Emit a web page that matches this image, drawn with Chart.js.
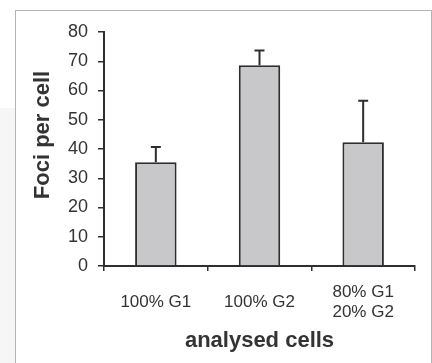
<!DOCTYPE html>
<html>
<head>
<meta charset="utf-8">
<script src="https://cdn.jsdelivr.net/npm/chart.js@4.4.1/dist/chart.umd.min.js"></script>
<style>
  html, body { margin: 0; padding: 0; background: #fff; }
  #page { position: relative; width: 432px; height: 363px; overflow: hidden; }
  #side { position: absolute; left: 0; top: 108px; width: 16px; height: 255px; background: #f6f6f6; }
  #panel { position: absolute; left: 15px; top: 10px; width: 415px; height: 360px; border: 1.5px solid #b4b4b4; background: #fff; }
  #chart { position: absolute; left: 0; top: 0; }
</style>
</head>
<body>
<div id="page">
  <div id="side"></div>
  <div id="panel"></div>
  <canvas id="chart" width="432" height="363"></canvas>
</div>
<script>
// values
let categories = [['100% G1'], ['100% G2'], ['80% G1', '20% G2']];
let fociPerCell = [35.5, 68.6, 42.3];
let fociError = [5.2, 5.1, 14.2];
let yTicks = [0, 10, 20, 30, 40, 50, 60, 70, 80];

let textColour = '#333333';
let lineColour = '#2e2e2e';

/**
 * Draws the upper error whiskers on top of each bar.
 */
let errorBarPlugin = {
  id: 'errorBars',
  afterDatasetsDraw(chart) {
    let ctx = chart.ctx;
    let yScale = chart.scales.y;
    let meta = chart.getDatasetMeta(0);
    ctx.save();
    ctx.strokeStyle = lineColour;
    ctx.lineWidth = 2;
    meta.data.forEach((bar, i) => {
      let top = yScale.getPixelForValue(fociPerCell[i] + fociError[i]);
      ctx.beginPath();
      ctx.moveTo(bar.x, bar.y);
      ctx.lineTo(bar.x, top);
      ctx.moveTo(bar.x - 5, top);
      ctx.lineTo(bar.x + 5, top);
      ctx.stroke();
    });
    ctx.restore();
  }
};

/**
 * Draws the rotated y axis title a little above the axis centre, as in the figure.
 */
let yTitlePlugin = {
  id: 'yTitle',
  afterDraw(chart) {
    let ctx = chart.ctx;
    ctx.save();
    ctx.translate(49, 135);
    ctx.rotate(-Math.PI / 2);
    ctx.font = 'bold 22px "Liberation Sans", Arial, sans-serif';
    ctx.fillStyle = textColour;
    ctx.textAlign = 'center';
    ctx.textBaseline = 'alphabetic';
    ctx.fillText('Foci per cell', 0, 0);
    ctx.restore();
  }
};

let ctx = document.getElementById('chart').getContext('2d');
new Chart(ctx, {
  type: 'bar',
  data: {
    labels: categories,
    datasets: [{
      data: fociPerCell,
      backgroundColor: '#c8c8ca',
      borderColor: lineColour,
      borderWidth: 2,
      barPercentage: 0.4,
      categoryPercentage: 1
    }]
  },
  options: {
    responsive: false,
    animation: false,
    events: [],
    layout: { padding: { left: 20, top: 32, right: 17, bottom: 0 } },
    plugins: { legend: { display: false }, tooltip: { enabled: false } },
    scales: {
      x: {
        afterFit: scale => { scale.height = 97; },
        grid: { offset: true, drawOnChartArea: false, drawTicks: true, tickLength: 5, color: lineColour, lineWidth: 1.5 },
        border: { display: true, color: lineColour, width: 2 },
        ticks: {
          color: textColour,
          font: { family: '"Liberation Sans", Arial, sans-serif', size: 17, lineHeight: 1.18 },
          padding: 21,
          crossAlign: 'center',
          maxRotation: 0
        },
        title: {
          display: true,
          text: 'analysed cells',
          color: textColour,
          font: { family: '"Liberation Sans", Arial, sans-serif', size: 22, weight: 'bold' },
          padding: { top: 0, bottom: 9 }
        }
      },
      y: {
        min: 0,
        max: 80,
        afterFit: scale => { scale.width = 84; },
        afterBuildTicks: scale => { scale.ticks = yTicks.map(v => ({ value: v })); },
        grid: { drawOnChartArea: false, drawTicks: true, tickLength: 6, color: lineColour, lineWidth: 1.5 },
        border: { display: true, color: lineColour, width: 2 },
        ticks: {
          color: textColour,
          font: { family: '"Liberation Sans", Arial, sans-serif', size: 18 },
          padding: 10
        }
      }
    }
  },
  plugins: [errorBarPlugin, yTitlePlugin]
});
</script>
</body>
</html>
